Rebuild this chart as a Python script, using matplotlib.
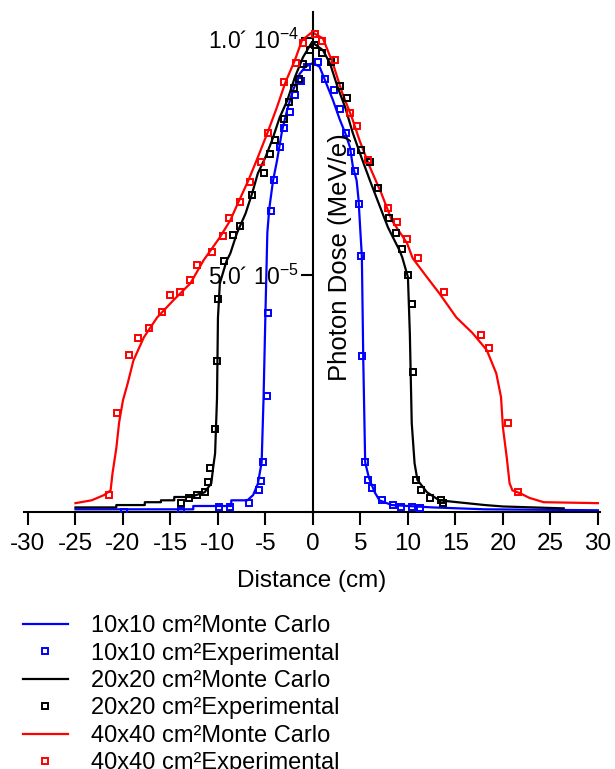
"""Photon dose profiles: Monte Carlo vs experimental, three field sizes"""

import matplotlib
matplotlib.use("Agg")
import matplotlib.pyplot as plt

plt.rcParams["font.family"] = ["Liberation Sans", "DejaVu Sans"]
plt.rcParams["mathtext.default"] = "regular"
plt.rcParams["axes.unicode_minus"] = False

SCALE = 1e-5  # dose values below are in units of 1e-5 MeV/e

# 10x10 cm2 field
x_10_mc = [-25, -12.6, -12.6, -8.6, -8.6, -6.9, -6.3, -5.8, -5.4, -5.2, -5.0, -4.8, -4.6, -4.2,
           -3.8, -3.25, -2.7, -2.1, -1.4, -0.8, 0.0, 0.7, 1.3, 2.1, 2.8, 3.4, 3.9, 4.2, 4.6, 4.8,
           5.0, 5.15, 5.3, 5.5, 5.9, 6.5, 7.0, 8.3, 12.6, 18.1, 30]
d_10_mc = [0.06, 0.06, 0.13, 0.13, 0.25, 0.25, 0.36, 0.6, 1.05, 2.4, 4.2, 5.9, 6.4, 7.0,
           7.4, 8.05, 8.5, 8.9, 9.25, 9.4, 9.48, 9.4, 9.1, 8.7, 8.3, 8.0, 7.7, 7.3, 7.0, 6.6,
           5.9, 5.4, 3.2, 1.05, 0.72, 0.42, 0.25, 0.15, 0.1, 0.06, 0.04]
x_10_exp = [-19.9, -13.9, -9.9, -8.7, -6.7, -5.7, -5.5, -5.3, -4.85, -4.75, -4.4, -4.1, -3.5,
            -3.0, -2.4, -1.9, -1.3, -0.6, 0.5, 1.3, 2.2, 2.8, 3.5, 4.0, 4.4, 4.9, 5.1, 5.2,
            5.5, 5.8, 6.2, 7.3, 8.4, 9.3, 10.4, 11.3]
d_10_exp = [0.0, 0.02, 0.1, 0.1, 0.2, 0.46, 0.65, 1.05, 2.45, 4.2, 6.35, 7.0, 7.7,
            8.1, 8.45, 8.8, 9.1, 9.4, 9.5, 9.15, 8.9, 8.5, 8.0, 7.6, 7.2, 6.5, 5.4, 3.3,
            1.05, 0.68, 0.5, 0.25, 0.15, 0.1, 0.1, 0.08]

# 20x20 cm2 field
x_20_mc = [-25, -20.7, -20.7, -17.7, -17.7, -16, -16, -14.6, -14.6, -12.9, -11.4, -10.7, -10.5,
           -10.3, -10.1, -10.0, -9.8, -9.1, -8.7, -8.0, -7.1, -6.4, -5.8, -5.0, -4.3, -3.5,
           -2.7, -1.9, -1.05, -0.1, 1.05, 1.8, 2.6, 3.4, 4.2, 5.1, 6.0, 6.8, 7.9, 9.1, 9.4,
           10.0, 10.2, 10.4, 10.7, 11.0, 12.0, 13.3, 15.2, 18.1, 20.0, 26.4]
d_20_mc = [0.1, 0.1, 0.15, 0.15, 0.21, 0.21, 0.25, 0.25, 0.32, 0.32, 0.42, 0.61, 0.95,
           1.24, 2.4, 4.1, 4.83, 5.3, 5.46, 5.89, 6.3, 6.73, 7.15, 7.49, 7.85, 8.33,
           8.69, 9.18, 9.6, 9.92, 9.75, 9.47, 8.97, 8.54, 8.0, 7.49, 7.0, 6.58, 6.01, 5.53, 5.38,
           4.96, 3.78, 1.88, 1.03, 0.68, 0.42, 0.25, 0.21, 0.15, 0.12, 0.08]
x_20_exp = [-13.9, -13.1, -12.2, -11.4, -11.1, -10.8, -10.3, -10.1, -10.0, -9.4, -8.4, -7.7,
            -6.4, -5.2, -4.5, -4.0, -3.0, -2.5, -2.0, -1.5, -1.0, -0.3, 0.2, 1.0, 1.9, 2.9,
            3.6, 5.1, 6.0, 6.9, 8.0, 8.7, 9.4, 10.0, 10.4, 10.5, 10.9, 11.4, 12.3, 13.5, 13.7]
d_20_exp = [0.19, 0.3, 0.36, 0.42, 0.63, 0.93, 1.75, 3.2, 4.5, 5.3, 5.85, 6.05,
            6.7, 7.15, 7.55, 7.85, 8.3, 8.65, 8.95, 9.15, 9.45, 9.75, 9.85, 9.7, 9.5, 9.0,
            8.75, 7.65, 7.4, 6.85, 6.2, 5.9, 5.55, 5.0, 4.4, 2.95, 0.68, 0.46, 0.3, 0.25, 0.19]

# 40x40 cm2 field
x_40_mc = [-25, -23.3, -22, -21.3, -21.1, -20.7, -20.4, -20.0, -19.5, -18.9, -17.8, -16.4,
           -14.7, -12.9, -11.5, -9.8, -8.7, -7.9, -6.8, -5.8, -4.8, -3.8, -2.9, -1.9, -1.15,
           -0.1, 1.05, 2.1, 3.1, 4.1, 4.9, 6.0, 7.2, 8.3, 9.9, 10.5, 12.0, 13.3, 15.1, 16.8,
           18.3, 19.3, 19.8, 20.0, 20.4, 20.7, 21.0, 21.8, 22.8, 24.3, 30]
d_40_mc = [0.19, 0.25, 0.36, 0.46, 0.82, 1.35, 1.9, 2.36, 2.72, 3.2, 3.69, 4.11,
           4.47, 4.83, 5.32, 5.8, 6.16, 6.52, 7.0, 7.49, 8.0, 8.54, 9.07, 9.54, 9.96,
           10.13, 10.0, 9.47, 8.84, 8.33, 7.85, 7.28, 6.73, 6.16, 5.68, 5.36, 4.96, 4.62, 4.11, 3.78,
           3.42, 2.93, 2.43, 1.79, 1.16, 0.61, 0.46, 0.4, 0.3, 0.21, 0.19]
x_40_exp = [-21.5, -20.6, -19.4, -18.4, -17.3, -15.9, -15.0, -14.0, -12.9, -12.2, -10.6, -9.5,
            -8.8, -7.7, -6.6, -5.5, -4.7, -3.0, -1.8, -1.0, 0.2, 1.0, 2.3, 3.9, 4.6, 5.8,
            7.9, 8.9, 9.9, 11.1, 13.8, 17.7, 18.5, 20.5, 21.6]
d_40_exp = [0.36, 2.09, 3.31, 3.67, 3.88, 4.22, 4.58, 4.64, 4.89, 5.21, 5.49, 5.82,
            6.2, 6.54, 6.96, 7.38, 8.0, 9.07, 9.47, 9.9, 10.1, 9.95, 9.55, 8.42, 8.16, 7.43,
            6.43, 6.12, 5.76, 5.37, 4.64, 3.73, 3.46, 1.88, 0.42]

x_ticks = list(range(-30, 31, 5))
y_ticks = [5e-5, 1e-4]
y_tick_labels = ["5.0\u00b4 $10^{-5}$", "1.0\u00b4 $10^{-4}$"]

series = [
    ("10x10", "#0000FF", x_10_mc, d_10_mc, x_10_exp, d_10_exp),
    ("20x20", "#000000", x_20_mc, d_20_mc, x_20_exp, d_20_exp),
    ("40x40", "#FF0000", x_40_mc, d_40_mc, x_40_exp, d_40_exp),
]

fig = plt.figure(figsize=(6.15, 7.69), dpi=100)
ax = fig.add_axes([0.0393, 0.334, 0.936, 0.650])

handles = []
labels = []
for name, color, xm, dm, xe, de in series:
    ln, = ax.plot(xm, [v * SCALE for v in dm], color=color, linewidth=1.6, zorder=2)
    pt, = ax.plot(xe, [v * SCALE for v in de], linestyle="none", marker="s", markersize=4.5,
                  markerfacecolor="none", markeredgecolor=color, markeredgewidth=1.4, zorder=3)
    handles += [ln, pt]
    labels += [f"{name} cm\u00b2Monte Carlo", f"{name} cm\u00b2Experimental"]

ax.set_xlim(-30.4, 30.2)
ax.set_ylim(0, 10.55e-5)

ax.spines["top"].set_visible(False)
ax.spines["right"].set_visible(False)
ax.spines["left"].set_position(("data", 0))
for side in ("left", "bottom"):
    ax.spines[side].set_linewidth(1.5)
    ax.spines[side].set_color("black")

ax.set_xticks(x_ticks)
ax.set_xticklabels([str(t) for t in x_ticks])
ax.set_yticks(y_ticks)
ax.set_yticklabels(y_tick_labels)
ax.tick_params(axis="x", direction="out", length=9, width=1.5, pad=6, labelsize=17.5)
ax.tick_params(axis="y", direction="out", length=9, width=1.5, pad=1, labelsize=16.5)
ax.set_xlabel("Distance (cm)", fontsize=17.5, labelpad=11)
ax.text(0.548, 0.51, "Photon Dose (MeV/e)", transform=ax.transAxes, rotation=90,
        ha="center", va="center", fontsize=18.5)

fig.legend(handles, labels, loc="upper left", bbox_to_anchor=(0.037, 0.2),
           frameon=False, fontsize=17, handlelength=1.9, handletextpad=1.0,
           labelspacing=0.23, borderpad=0, borderaxespad=0)

fig.savefig("out.png", dpi=100, facecolor="white")
